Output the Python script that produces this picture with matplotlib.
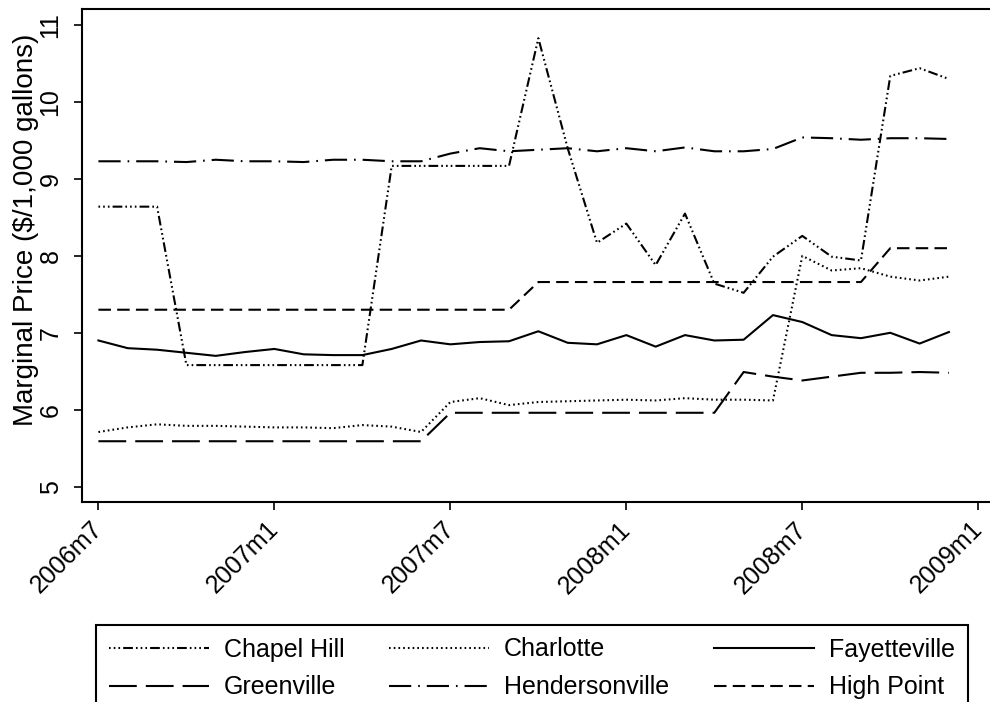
import matplotlib
matplotlib.use("Agg")
import matplotlib.pyplot as plt

plt.rcParams.update({"font.family": ["Liberation Sans", "DejaVu Sans"], "font.size": 18})
plt.rcParams["lines.scale_dashes"] = False

# Stata monthly dates (%tm): 2006m7 = 558
months = list(range(558, 588))
tick_pos = [558, 564, 570, 576, 582, 588]
tick_labels = ["2006m7", "2007m1", "2007m7", "2008m1", "2008m7", "2009m1"]

chapel_hill = [8.64, 8.64, 8.64, 6.58, 6.58, 6.58, 6.58, 6.58, 6.58, 6.58,
               9.17, 9.17, 9.17, 9.17, 9.17, 10.83, 9.40, 8.17, 8.42, 7.88,
               8.55, 7.64, 7.52, 7.99, 8.26, 7.99, 7.94, 10.34, 10.44, 10.30]
charlotte = [5.71, 5.77, 5.81, 5.79, 5.79, 5.78, 5.77, 5.77, 5.76, 5.80,
             5.78, 5.71, 6.10, 6.15, 6.06, 6.10, 6.11, 6.12, 6.13, 6.12,
             6.15, 6.13, 6.13, 6.12, 8.00, 7.81, 7.84, 7.73, 7.68, 7.73]
fayetteville = [6.90, 6.80, 6.78, 6.74, 6.70, 6.75, 6.79, 6.72, 6.71, 6.71,
                6.79, 6.90, 6.85, 6.88, 6.89, 7.02, 6.87, 6.85, 6.97, 6.82,
                6.97, 6.90, 6.91, 7.23, 7.14, 6.97, 6.93, 7.00, 6.86, 7.01]
greenville = [5.59] * 12 + [5.96] * 10 + [6.49, 6.43, 6.38, 6.43, 6.48, 6.48, 6.49, 6.48]
hendersonville = [9.23, 9.23, 9.23, 9.22, 9.25, 9.23, 9.23, 9.22, 9.25, 9.25,
                  9.23, 9.23, 9.33, 9.40, 9.36, 9.38, 9.40, 9.36, 9.40, 9.36,
                  9.41, 9.36, 9.36, 9.39, 9.54, 9.53, 9.51, 9.53, 9.53, 9.52]
high_point = [7.30] * 15 + [7.66] * 12 + [8.10] * 3

series = [
    ("Chapel Hill", chapel_hill, (0, (1.2, 2.2, 1.2, 2.2, 1.2, 2.2, 7, 2.2))),
    ("Charlotte", charlotte, (0, (1.2, 2.2))),
    ("Fayetteville", fayetteville, "solid"),
    ("Greenville", greenville, (0, (20, 6.5))),
    ("Hendersonville", hendersonville, (0, (16, 5, 1.2, 5))),
    ("High Point", high_point, (0, (9, 4.5))),
]

fig = plt.figure(figsize=(9.9, 7.02), dpi=100)
ax = fig.add_axes([82 / 990, 1 - 502 / 702, 1 - 82 / 990, (502 - 9) / 702])

lines = {}
for name, vals, ls in series:
    (ln,) = ax.plot(months, vals, color="black", linewidth=1.5, linestyle=ls, label=name)
    lines[name] = ln

ax.set_xlim(557.44, 588.4)
ax.set_ylim(4.80, 11.21)
ax.set_yticks([5, 6, 7, 8, 9, 10, 11])
ax.set_xticks(tick_pos)
ax.set_xticklabels(tick_labels, rotation=45, ha="right", va="center", rotation_mode="anchor")
for lbl in ax.get_yticklabels():
    lbl.set_rotation(90)
    lbl.set_va("center")
ax.tick_params(direction="out", length=6, width=1.2, colors="black", labelsize=18)
ax.tick_params(axis="y", pad=8)
ax.tick_params(axis="x", pad=11)

for side in ["left", "bottom", "top"]:
    ax.spines[side].set_linewidth(1.5)
ax.spines["right"].set_visible(False)

ax.set_ylabel("Marginal Price (\\$/1,000 gallons)", fontsize=20)
ax.yaxis.set_label_coords(-0.047, 0.552)

# legend filled column-wise, so reorder to read row-wise like the original
order = ["Chapel Hill", "Greenville", "Charlotte", "Hendersonville", "Fayetteville", "High Point"]
leg = fig.legend(
    [lines[n] for n in order],
    order,
    loc="upper left",
    bbox_to_anchor=(96 / 990, 1 - 625 / 702),
    ncol=3,
    fontsize=18,
    handlelength=4.0,
    handletextpad=0.6,
    columnspacing=1.8,
    labelspacing=0.55,
    borderpad=0.5,
    borderaxespad=0.0,
    fancybox=False,
    edgecolor="black",
    framealpha=1,
)
leg.get_frame().set_linewidth(1.5)

fig.savefig("out.png", dpi=100)
